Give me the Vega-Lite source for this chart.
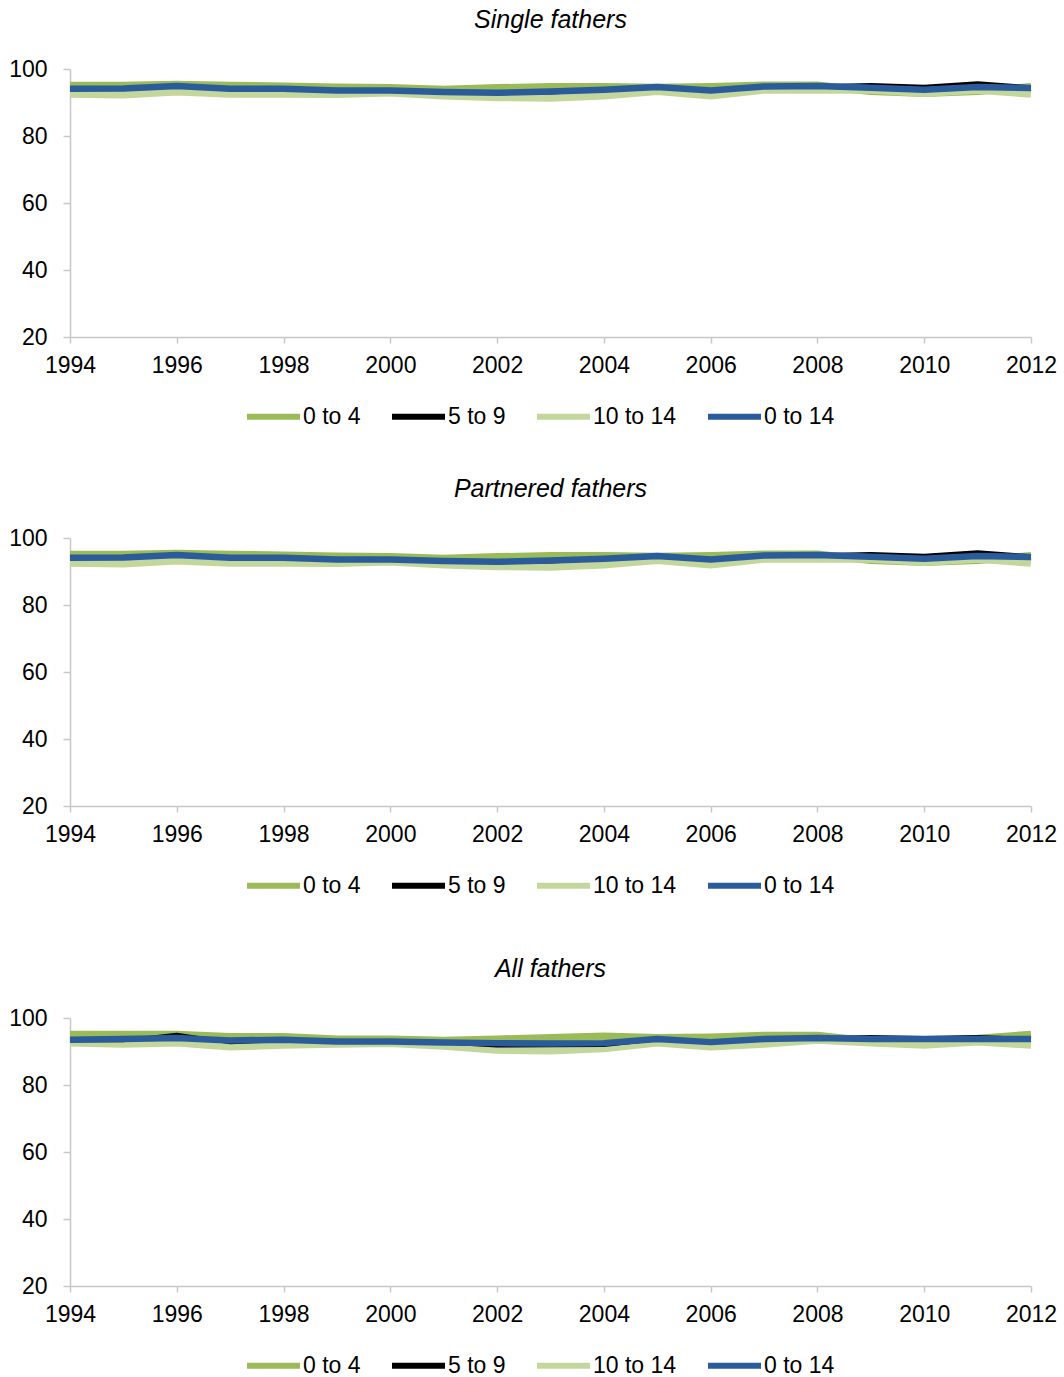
{
  "$schema": "https://vega.github.io/schema/vega-lite/v6.json",
  "padding": {"left": 8, "top": 8, "right": 0, "bottom": 0},
  "datasets": {
    "single": [
      {"series": "0 to 4", "year": 1994, "value": 95.0}, {"series": "0 to 4", "year": 1995, "value": 95.0}, {"series": "0 to 4", "year": 1996, "value": 95.3}, {"series": "0 to 4", "year": 1997, "value": 95.0}, {"series": "0 to 4", "year": 1998, "value": 94.8}, {"series": "0 to 4", "year": 1999, "value": 94.5}, {"series": "0 to 4", "year": 2000, "value": 94.3}, {"series": "0 to 4", "year": 2001, "value": 93.8}, {"series": "0 to 4", "year": 2002, "value": 94.3}, {"series": "0 to 4", "year": 2003, "value": 94.6}, {"series": "0 to 4", "year": 2004, "value": 94.6}, {"series": "0 to 4", "year": 2005, "value": 94.4}, {"series": "0 to 4", "year": 2006, "value": 94.6}, {"series": "0 to 4", "year": 2007, "value": 95.1}, {"series": "0 to 4", "year": 2008, "value": 95.1}, {"series": "0 to 4", "year": 2009, "value": 93.4}, {"series": "0 to 4", "year": 2010, "value": 92.8}, {"series": "0 to 4", "year": 2011, "value": 93.4}, {"series": "0 to 4", "year": 2012, "value": 94.6},
      {"series": "10 to 14", "year": 1994, "value": 92.6}, {"series": "10 to 14", "year": 1995, "value": 92.4}, {"series": "10 to 14", "year": 1996, "value": 93.3}, {"series": "10 to 14", "year": 1997, "value": 92.6}, {"series": "10 to 14", "year": 1998, "value": 92.6}, {"series": "10 to 14", "year": 1999, "value": 92.5}, {"series": "10 to 14", "year": 2000, "value": 93.0}, {"series": "10 to 14", "year": 2001, "value": 92.1}, {"series": "10 to 14", "year": 2002, "value": 91.6}, {"series": "10 to 14", "year": 2003, "value": 91.4}, {"series": "10 to 14", "year": 2004, "value": 92.1}, {"series": "10 to 14", "year": 2005, "value": 93.4}, {"series": "10 to 14", "year": 2006, "value": 92.1}, {"series": "10 to 14", "year": 2007, "value": 93.8}, {"series": "10 to 14", "year": 2008, "value": 93.8}, {"series": "10 to 14", "year": 2009, "value": 93.8}, {"series": "10 to 14", "year": 2010, "value": 92.8}, {"series": "10 to 14", "year": 2011, "value": 93.8}, {"series": "10 to 14", "year": 2012, "value": 92.6},
      {"series": "5 to 9", "year": 1994, "value": 94.1}, {"series": "5 to 9", "year": 1995, "value": 94.2}, {"series": "5 to 9", "year": 1996, "value": 94.9}, {"series": "5 to 9", "year": 1997, "value": 94.1}, {"series": "5 to 9", "year": 1998, "value": 94.1}, {"series": "5 to 9", "year": 1999, "value": 93.6}, {"series": "5 to 9", "year": 2000, "value": 93.6}, {"series": "5 to 9", "year": 2001, "value": 93.1}, {"series": "5 to 9", "year": 2002, "value": 92.7}, {"series": "5 to 9", "year": 2003, "value": 92.9}, {"series": "5 to 9", "year": 2004, "value": 93.7}, {"series": "5 to 9", "year": 2005, "value": 94.6}, {"series": "5 to 9", "year": 2006, "value": 93.6}, {"series": "5 to 9", "year": 2007, "value": 94.8}, {"series": "5 to 9", "year": 2008, "value": 94.9}, {"series": "5 to 9", "year": 2009, "value": 95.3}, {"series": "5 to 9", "year": 2010, "value": 94.8}, {"series": "5 to 9", "year": 2011, "value": 95.8}, {"series": "5 to 9", "year": 2012, "value": 94.6},
      {"series": "0 to 14", "year": 1994, "value": 94.1}, {"series": "0 to 14", "year": 1995, "value": 94.2}, {"series": "0 to 14", "year": 1996, "value": 94.9}, {"series": "0 to 14", "year": 1997, "value": 94.1}, {"series": "0 to 14", "year": 1998, "value": 94.1}, {"series": "0 to 14", "year": 1999, "value": 93.6}, {"series": "0 to 14", "year": 2000, "value": 93.6}, {"series": "0 to 14", "year": 2001, "value": 93.1}, {"series": "0 to 14", "year": 2002, "value": 92.9}, {"series": "0 to 14", "year": 2003, "value": 93.3}, {"series": "0 to 14", "year": 2004, "value": 93.8}, {"series": "0 to 14", "year": 2005, "value": 94.6}, {"series": "0 to 14", "year": 2006, "value": 93.6}, {"series": "0 to 14", "year": 2007, "value": 94.8}, {"series": "0 to 14", "year": 2008, "value": 94.9}, {"series": "0 to 14", "year": 2009, "value": 94.4}, {"series": "0 to 14", "year": 2010, "value": 93.8}, {"series": "0 to 14", "year": 2011, "value": 94.6}, {"series": "0 to 14", "year": 2012, "value": 94.3}
    ],
    "partnered": [
      {"series": "0 to 4", "year": 1994, "value": 95.0}, {"series": "0 to 4", "year": 1995, "value": 95.0}, {"series": "0 to 4", "year": 1996, "value": 95.3}, {"series": "0 to 4", "year": 1997, "value": 95.0}, {"series": "0 to 4", "year": 1998, "value": 94.8}, {"series": "0 to 4", "year": 1999, "value": 94.5}, {"series": "0 to 4", "year": 2000, "value": 94.3}, {"series": "0 to 4", "year": 2001, "value": 93.8}, {"series": "0 to 4", "year": 2002, "value": 94.3}, {"series": "0 to 4", "year": 2003, "value": 94.6}, {"series": "0 to 4", "year": 2004, "value": 94.6}, {"series": "0 to 4", "year": 2005, "value": 94.4}, {"series": "0 to 4", "year": 2006, "value": 94.6}, {"series": "0 to 4", "year": 2007, "value": 95.1}, {"series": "0 to 4", "year": 2008, "value": 95.1}, {"series": "0 to 4", "year": 2009, "value": 93.4}, {"series": "0 to 4", "year": 2010, "value": 92.8}, {"series": "0 to 4", "year": 2011, "value": 93.4}, {"series": "0 to 4", "year": 2012, "value": 94.6},
      {"series": "10 to 14", "year": 1994, "value": 92.6}, {"series": "10 to 14", "year": 1995, "value": 92.4}, {"series": "10 to 14", "year": 1996, "value": 93.3}, {"series": "10 to 14", "year": 1997, "value": 92.6}, {"series": "10 to 14", "year": 1998, "value": 92.6}, {"series": "10 to 14", "year": 1999, "value": 92.5}, {"series": "10 to 14", "year": 2000, "value": 93.0}, {"series": "10 to 14", "year": 2001, "value": 92.1}, {"series": "10 to 14", "year": 2002, "value": 91.6}, {"series": "10 to 14", "year": 2003, "value": 91.4}, {"series": "10 to 14", "year": 2004, "value": 92.1}, {"series": "10 to 14", "year": 2005, "value": 93.4}, {"series": "10 to 14", "year": 2006, "value": 92.1}, {"series": "10 to 14", "year": 2007, "value": 93.8}, {"series": "10 to 14", "year": 2008, "value": 93.8}, {"series": "10 to 14", "year": 2009, "value": 93.8}, {"series": "10 to 14", "year": 2010, "value": 92.8}, {"series": "10 to 14", "year": 2011, "value": 93.8}, {"series": "10 to 14", "year": 2012, "value": 92.6},
      {"series": "5 to 9", "year": 1994, "value": 94.1}, {"series": "5 to 9", "year": 1995, "value": 94.2}, {"series": "5 to 9", "year": 1996, "value": 94.9}, {"series": "5 to 9", "year": 1997, "value": 94.1}, {"series": "5 to 9", "year": 1998, "value": 94.1}, {"series": "5 to 9", "year": 1999, "value": 93.6}, {"series": "5 to 9", "year": 2000, "value": 93.6}, {"series": "5 to 9", "year": 2001, "value": 93.1}, {"series": "5 to 9", "year": 2002, "value": 92.7}, {"series": "5 to 9", "year": 2003, "value": 92.9}, {"series": "5 to 9", "year": 2004, "value": 93.7}, {"series": "5 to 9", "year": 2005, "value": 94.6}, {"series": "5 to 9", "year": 2006, "value": 93.6}, {"series": "5 to 9", "year": 2007, "value": 94.8}, {"series": "5 to 9", "year": 2008, "value": 94.9}, {"series": "5 to 9", "year": 2009, "value": 95.3}, {"series": "5 to 9", "year": 2010, "value": 94.8}, {"series": "5 to 9", "year": 2011, "value": 95.8}, {"series": "5 to 9", "year": 2012, "value": 94.6},
      {"series": "0 to 14", "year": 1994, "value": 94.1}, {"series": "0 to 14", "year": 1995, "value": 94.2}, {"series": "0 to 14", "year": 1996, "value": 94.9}, {"series": "0 to 14", "year": 1997, "value": 94.1}, {"series": "0 to 14", "year": 1998, "value": 94.1}, {"series": "0 to 14", "year": 1999, "value": 93.6}, {"series": "0 to 14", "year": 2000, "value": 93.6}, {"series": "0 to 14", "year": 2001, "value": 93.1}, {"series": "0 to 14", "year": 2002, "value": 92.9}, {"series": "0 to 14", "year": 2003, "value": 93.3}, {"series": "0 to 14", "year": 2004, "value": 93.8}, {"series": "0 to 14", "year": 2005, "value": 94.6}, {"series": "0 to 14", "year": 2006, "value": 93.6}, {"series": "0 to 14", "year": 2007, "value": 94.8}, {"series": "0 to 14", "year": 2008, "value": 94.9}, {"series": "0 to 14", "year": 2009, "value": 94.4}, {"series": "0 to 14", "year": 2010, "value": 93.8}, {"series": "0 to 14", "year": 2011, "value": 94.6}, {"series": "0 to 14", "year": 2012, "value": 94.3}
    ],
    "all": [
      {"series": "0 to 4", "year": 1994, "value": 95.0}, {"series": "0 to 4", "year": 1995, "value": 95.0}, {"series": "0 to 4", "year": 1996, "value": 95.0}, {"series": "0 to 4", "year": 1997, "value": 94.3}, {"series": "0 to 4", "year": 1998, "value": 94.3}, {"series": "0 to 4", "year": 1999, "value": 93.6}, {"series": "0 to 4", "year": 2000, "value": 93.6}, {"series": "0 to 4", "year": 2001, "value": 93.2}, {"series": "0 to 4", "year": 2002, "value": 93.6}, {"series": "0 to 4", "year": 2003, "value": 94.0}, {"series": "0 to 4", "year": 2004, "value": 94.5}, {"series": "0 to 4", "year": 2005, "value": 94.0}, {"series": "0 to 4", "year": 2006, "value": 94.2}, {"series": "0 to 4", "year": 2007, "value": 94.7}, {"series": "0 to 4", "year": 2008, "value": 94.7}, {"series": "0 to 4", "year": 2009, "value": 93.0}, {"series": "0 to 4", "year": 2010, "value": 93.2}, {"series": "0 to 4", "year": 2011, "value": 93.8}, {"series": "0 to 4", "year": 2012, "value": 95.0},
      {"series": "10 to 14", "year": 1994, "value": 92.7}, {"series": "10 to 14", "year": 1995, "value": 92.3}, {"series": "10 to 14", "year": 1996, "value": 92.7}, {"series": "10 to 14", "year": 1997, "value": 91.5}, {"series": "10 to 14", "year": 1998, "value": 92.0}, {"series": "10 to 14", "year": 1999, "value": 92.3}, {"series": "10 to 14", "year": 2000, "value": 92.5}, {"series": "10 to 14", "year": 2001, "value": 91.7}, {"series": "10 to 14", "year": 2002, "value": 90.5}, {"series": "10 to 14", "year": 2003, "value": 90.3}, {"series": "10 to 14", "year": 2004, "value": 91.0}, {"series": "10 to 14", "year": 2005, "value": 92.7}, {"series": "10 to 14", "year": 2006, "value": 91.5}, {"series": "10 to 14", "year": 2007, "value": 92.3}, {"series": "10 to 14", "year": 2008, "value": 93.5}, {"series": "10 to 14", "year": 2009, "value": 92.7}, {"series": "10 to 14", "year": 2010, "value": 92.0}, {"series": "10 to 14", "year": 2011, "value": 93.0}, {"series": "10 to 14", "year": 2012, "value": 92.0},
      {"series": "5 to 9", "year": 1994, "value": 93.3}, {"series": "5 to 9", "year": 1995, "value": 93.3}, {"series": "5 to 9", "year": 1996, "value": 95.1}, {"series": "5 to 9", "year": 1997, "value": 92.7}, {"series": "5 to 9", "year": 1998, "value": 93.3}, {"series": "5 to 9", "year": 1999, "value": 92.9}, {"series": "5 to 9", "year": 2000, "value": 93.0}, {"series": "5 to 9", "year": 2001, "value": 92.6}, {"series": "5 to 9", "year": 2002, "value": 91.7}, {"series": "5 to 9", "year": 2003, "value": 91.8}, {"series": "5 to 9", "year": 2004, "value": 91.9}, {"series": "5 to 9", "year": 2005, "value": 93.6}, {"series": "5 to 9", "year": 2006, "value": 92.8}, {"series": "5 to 9", "year": 2007, "value": 93.7}, {"series": "5 to 9", "year": 2008, "value": 94.0}, {"series": "5 to 9", "year": 2009, "value": 94.4}, {"series": "5 to 9", "year": 2010, "value": 94.1}, {"series": "5 to 9", "year": 2011, "value": 94.4}, {"series": "5 to 9", "year": 2012, "value": 93.8},
      {"series": "0 to 14", "year": 1994, "value": 93.5}, {"series": "0 to 14", "year": 1995, "value": 93.7}, {"series": "0 to 14", "year": 1996, "value": 94.0}, {"series": "0 to 14", "year": 1997, "value": 93.3}, {"series": "0 to 14", "year": 1998, "value": 93.5}, {"series": "0 to 14", "year": 1999, "value": 93.0}, {"series": "0 to 14", "year": 2000, "value": 93.0}, {"series": "0 to 14", "year": 2001, "value": 92.7}, {"series": "0 to 14", "year": 2002, "value": 92.5}, {"series": "0 to 14", "year": 2003, "value": 92.4}, {"series": "0 to 14", "year": 2004, "value": 92.5}, {"series": "0 to 14", "year": 2005, "value": 93.7}, {"series": "0 to 14", "year": 2006, "value": 92.8}, {"series": "0 to 14", "year": 2007, "value": 93.7}, {"series": "0 to 14", "year": 2008, "value": 94.0}, {"series": "0 to 14", "year": 2009, "value": 93.7}, {"series": "0 to 14", "year": 2010, "value": 93.7}, {"series": "0 to 14", "year": 2011, "value": 93.7}, {"series": "0 to 14", "year": 2012, "value": 93.7}
    ]
  },
  "spacing": 59,
  "resolve": {"legend": {"color": "independent"}},
  "vconcat": [
    {
      "spacing": 48,
      "resolve": {"legend": {"color": "independent"}},
      "vconcat": [
        {
          "title": "Single fathers",
          "width": 961,
          "height": 268,
          "data": {"name": "single"},
          "encoding": {
            "x": {"field": "year", "type": "quantitative", "title": null, "scale": {"domain": [1994, 2012], "nice": false, "zero": false}, "axis": {"values": [1994, 1996, 1998, 2000, 2002, 2004, 2006, 2008, 2010, 2012], "format": "d", "tickSize": 6, "labelPadding": 11, "labelFlush": false}},
            "y": {"field": "value", "type": "quantitative", "title": null, "scale": {"domain": [20, 100], "nice": false, "zero": false}, "axis": {"values": [20, 40, 60, 80, 100], "tickSize": 7, "labelPadding": 16}},
            "color": {"field": "series", "type": "nominal", "title": null, "scale": {"domain": ["0 to 4", "5 to 9", "10 to 14", "0 to 14"], "range": ["#9bbb59", "#000000", "#c3d69b", "#2a5b9b"]}},
            "strokeWidth": {"field": "series", "type": "nominal", "legend": null, "scale": {"type": "ordinal", "domain": ["0 to 4", "5 to 9", "10 to 14", "0 to 14"], "range": [8, 3.5, 8, 6.5]}}
          },
          "layer": [
            {"transform": [{"filter": "datum.series !== '0 to 14'"}], "mark": {"type": "line", "strokeJoin": "round"}},
            {"transform": [{"filter": "datum.series === '0 to 14'"}], "mark": {"type": "line", "strokeJoin": "round"}}
          ]
        },
        {
          "title": "Partnered fathers",
          "width": 961,
          "height": 268,
          "data": {"name": "partnered"},
          "encoding": {
            "x": {"field": "year", "type": "quantitative", "title": null, "scale": {"domain": [1994, 2012], "nice": false, "zero": false}, "axis": {"values": [1994, 1996, 1998, 2000, 2002, 2004, 2006, 2008, 2010, 2012], "format": "d", "tickSize": 6, "labelPadding": 11, "labelFlush": false}},
            "y": {"field": "value", "type": "quantitative", "title": null, "scale": {"domain": [20, 100], "nice": false, "zero": false}, "axis": {"values": [20, 40, 60, 80, 100], "tickSize": 7, "labelPadding": 16}},
            "color": {"field": "series", "type": "nominal", "title": null, "scale": {"domain": ["0 to 4", "5 to 9", "10 to 14", "0 to 14"], "range": ["#9bbb59", "#000000", "#c3d69b", "#2a5b9b"]}},
            "strokeWidth": {"field": "series", "type": "nominal", "legend": null, "scale": {"type": "ordinal", "domain": ["0 to 4", "5 to 9", "10 to 14", "0 to 14"], "range": [8, 3.5, 8, 6.5]}}
          },
          "layer": [
            {"transform": [{"filter": "datum.series !== '0 to 14'"}], "mark": {"type": "line", "strokeJoin": "round"}},
            {"transform": [{"filter": "datum.series === '0 to 14'"}], "mark": {"type": "line", "strokeJoin": "round"}}
          ]
        }
      ]
    },
    {
      "title": "All fathers",
      "width": 961,
      "height": 268,
      "data": {"name": "all"},
      "encoding": {
        "x": {"field": "year", "type": "quantitative", "title": null, "scale": {"domain": [1994, 2012], "nice": false, "zero": false}, "axis": {"values": [1994, 1996, 1998, 2000, 2002, 2004, 2006, 2008, 2010, 2012], "format": "d", "tickSize": 6, "labelPadding": 11, "labelFlush": false}},
        "y": {"field": "value", "type": "quantitative", "title": null, "scale": {"domain": [20, 100], "nice": false, "zero": false}, "axis": {"values": [20, 40, 60, 80, 100], "tickSize": 7, "labelPadding": 16}},
        "color": {"field": "series", "type": "nominal", "title": null, "scale": {"domain": ["0 to 4", "5 to 9", "10 to 14", "0 to 14"], "range": ["#9bbb59", "#000000", "#c3d69b", "#2a5b9b"]}},
        "strokeWidth": {"field": "series", "type": "nominal", "legend": null, "scale": {"type": "ordinal", "domain": ["0 to 4", "5 to 9", "10 to 14", "0 to 14"], "range": [8, 3.5, 8, 6.5]}}
      },
      "layer": [
        {"transform": [{"filter": "datum.series !== '0 to 14'"}], "mark": {"type": "line", "strokeJoin": "round"}},
        {"transform": [{"filter": "datum.series === '0 to 14'"}], "mark": {"type": "line", "strokeJoin": "round"}}
      ]
    }
  ],
  "config": {
    "font": "Liberation Sans",
    "view": {"stroke": null},
    "axis": {"grid": false, "domainColor": "#c8c8c8", "tickColor": "#c8c8c8", "domainWidth": 1.5, "tickWidth": 1.5, "labelFontSize": 23, "labelColor": "#000000"},
    "title": {"fontSize": 25, "fontStyle": "italic", "fontWeight": "normal", "color": "#000000", "frame": "group", "anchor": "middle", "offset": 25},
    "legend": {"orient": "none", "legendX": 174, "legendY": 318, "direction": "horizontal", "symbolType": "stroke", "symbolSize": 2809, "symbolStrokeWidth": 6, "labelFontSize": 23, "labelColor": "#000000", "labelOffset": 0, "columnPadding": 19}
  }
}
